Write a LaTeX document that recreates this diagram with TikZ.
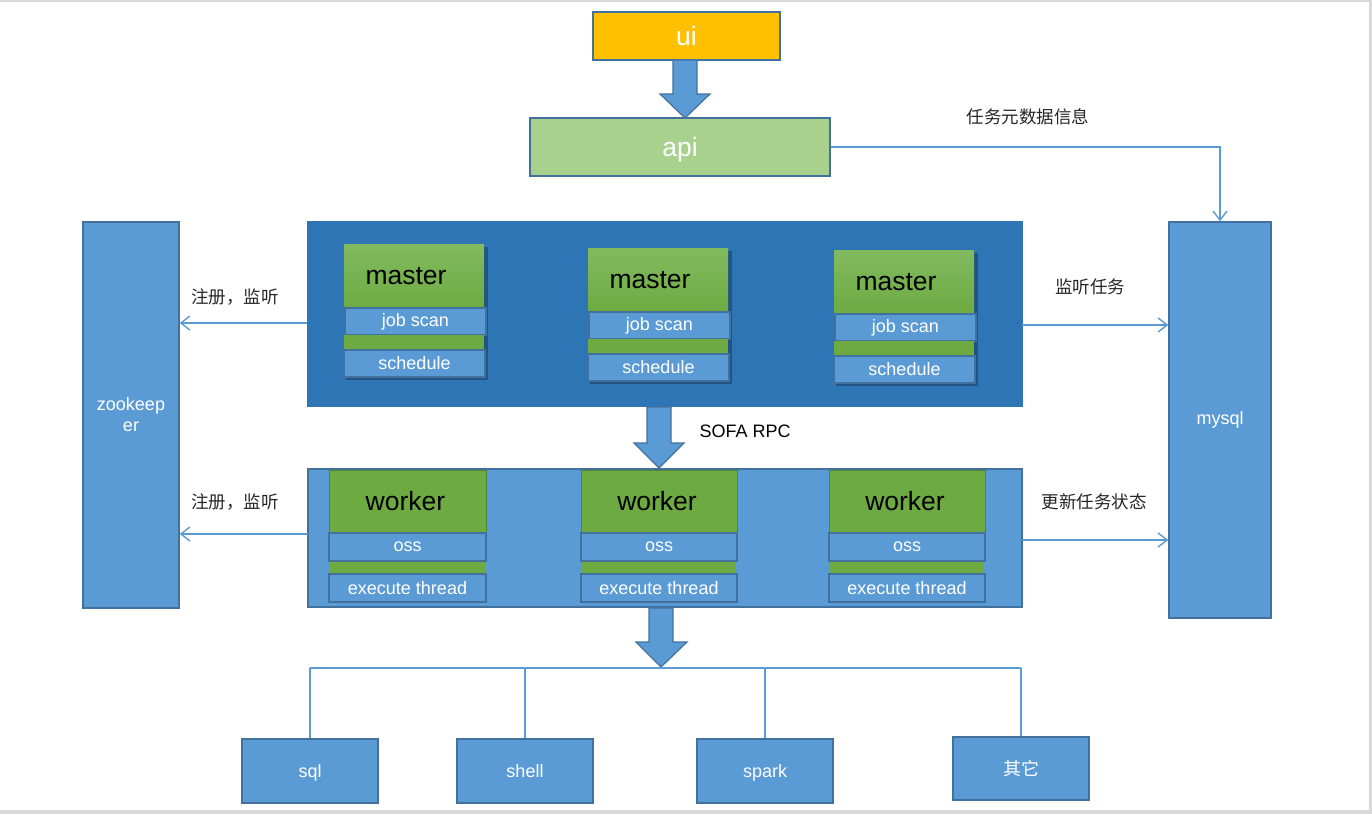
\documentclass[tikz,border=0pt]{standalone}
\usepackage{fontspec}
\setmainfont{Liberation Sans}
\newfontfamily\cjk{Noto Sans CJK SC}
\usetikzlibrary{arrows.meta}
\definecolor{bmid}{HTML}{5B9BD5}
\definecolor{bdark}{HTML}{2E75B6}
\definecolor{bline}{HTML}{41719C}
\definecolor{gmid}{HTML}{6DAB42}
\definecolor{gtop}{HTML}{82BA5F}
\definecolor{gline}{HTML}{548235}
\definecolor{glight}{HTML}{A9D18E}
\definecolor{uiy}{HTML}{FFC000}
\definecolor{frame}{HTML}{D9D9D9}
\newcommand\fsS{\fontsize{18}{21}\selectfont}
\newcommand\fsL{\fontsize{26.5}{30}\selectfont}
\newcommand\fsC{\cjk\fontsize{17.5}{21}\selectfont}
\tikzset{
  bx/.style={draw=bline, line width=1.5pt, inner sep=0pt, align=center, text=white, font=\fsS},
  bigbx/.style={bx, font=\fsL, text depth=0pt},
  sub/.style={fill=bmid, draw=bline, line width=1.2pt, inner sep=0pt, text=white, font=\fsS},
  mtop/.style={top color=gtop, bottom color=gmid, draw=none, inner sep=0pt, text=black, font=\fsL},
  wtop/.style={fill=gmid, draw=gline, line width=1pt, inner sep=0pt, text=black, font=\fsL},
  band/.style={fill=gmid, draw=none, inner sep=0pt},
  conn/.style={draw=bmid, line width=1.4pt, -{Straight Barb[length=9pt,width=14pt,line width=1.4pt]}},
  bus/.style={draw=bmid, line width=1.4pt},
  blockarrow/.style={fill=bmid, draw=bline, line width=1.2pt, line join=miter},
  lbl/.style={font=\fsC, text=black!85, inner sep=0pt},
  shadowbox/.style={fill=black, opacity=0.28}
}
\begin{document}
\begin{tikzpicture}[x=1pt,y=-1pt]
\useasboundingbox (0,0) rectangle (1372,814);
\fill[white] (0,0) rectangle (1372,814);
% frame
\fill[frame] (0,0) rectangle (1372,2);
\fill[frame] (1369,0) rectangle (1372,814);
\fill[frame] (0,810) rectangle (1372,814);

% top boxes
\node[bigbx, fill=uiy, minimum width=187, minimum height=48] (ui) at (686.5,36) {ui};
\node[bigbx, fill=glight, minimum width=300, minimum height=58] (api) at (680,147) {api};
\draw[blockarrow] (673,60) -- (697,60) -- (697,94) -- (710,94) -- (685,118) -- (660,94) -- (673,94) -- cycle;

% side columns
\node[bx, fill=bmid, minimum width=96, minimum height=386] (zk) at (131,415) {zookeep\\er};
\node[bx, fill=bmid, minimum width=102, minimum height=396] (mysql) at (1220,420) {mysql};

% master container
\node[fill=bdark, draw=bdark, line width=1pt, minimum width=715, minimum height=185, inner sep=0pt] (mc) at (664.5,314) {};
\foreach \i/\L/\T in {1/344/244, 2/588/248, 3/834/250} {
  \fill[shadowbox] (\L+2,\T+3) rectangle (\L+144,\T+136);
  \node[mtop, minimum width=140, minimum height=64] (m\i) at (\L+70,\T+32) {\hspace*{-16pt}master};
  \node[sub, minimum width=141, minimum height=27] (m\i j) at (\L+71.5,\T+77.5) {job scan};
  \node[band, minimum width=140, minimum height=15] (m\i b) at (\L+70,\T+98.5) {};
  \node[sub, minimum width=141, minimum height=27] (m\i s) at (\L+70.5,\T+119.5) {schedule};
}

% master -> worker block arrow
\draw[blockarrow] (647,407) -- (671,407) -- (671,443) -- (684,443) -- (659,468) -- (634,443) -- (647,443) -- cycle;
\node[font=\fsS, text=black, inner sep=0pt] (sofa) at (745,431) {SOFA RPC};

% worker container
\node[fill=bmid, draw=bline, line width=1.5pt, minimum width=714, minimum height=138, inner sep=0pt] (wc) at (665,538) {};
\foreach \i/\L/\W in {1/329/157, 2/581/156, 3/829/156} {
  \node[wtop, minimum width=\W, minimum height=63] (w\i) at (\L+\W/2,501.5) {\hspace*{-4pt}worker};
  \node[sub, minimum width=\W, minimum height=28] (w\i o) at (\L+\W/2,547) {oss};
  \node[band, minimum width=\W-2, minimum height=12] (w\i b) at (\L+\W/2,567.5) {};
  \node[sub, minimum width=\W, minimum height=28] (w\i e) at (\L+\W/2,588) {execute thread};
}

% worker -> tasks block arrow
\draw[blockarrow] (649,608) -- (673,608) -- (673,642) -- (687,642) -- (661,667) -- (636,642) -- (649,642) -- cycle;

% bottom boxes
\node[bx, fill=bmid, minimum width=136, minimum height=64, text depth=0pt] (sql) at (310,771) {sql};
\node[bx, fill=bmid, minimum width=136, minimum height=64, text depth=0pt] (shell) at (525,771) {shell};
\node[bx, fill=bmid, minimum width=136, minimum height=64, text depth=0pt] (spark) at (765,771) {spark};
\node[bx, fill=bmid, minimum width=136, minimum height=63, font=\cjk\fontsize{18}{21}\selectfont] (other) at (1021,768.5) {其它};

\coordinate (busL) at (310,668);
\coordinate (busR) at (1021,668);
\draw[bus] (busL) -- (busR);
\draw[bus] (sql.north) -- (sql.north |- busL);
\draw[bus] (shell.north) -- (shell.north |- busL);
\draw[bus] (spark.north) -- (spark.north |- busL);
\draw[bus] (other.north) -- (other.north |- busL);

% side connectors
\coordinate (mzl) at (307,323);
\coordinate (wzl) at (308,534);
\coordinate (mmr) at (1022,325);
\coordinate (wmr) at (1022,540);
\draw[conn] (mzl) -- (mzl -| zk.east);
\draw[conn] (wzl) -- (wzl -| zk.east);
\draw[conn] (mmr) -- (mmr -| mysql.west);
\draw[conn] (wmr) -- (wmr -| mysql.west);
\draw[conn] (api.east) -| (mysql.north);

% labels
\node[lbl] (l1) at (235,297) {注册，监听};
\node[lbl] (l2) at (235,502) {注册，监听};
\node[lbl] (l3) at (1090,287) {监听任务};
\node[lbl] (l4) at (1094,502) {更新任务状态};
\node[lbl] (l5) at (1028,117) {任务元数据信息};
\end{tikzpicture}
\end{document}
